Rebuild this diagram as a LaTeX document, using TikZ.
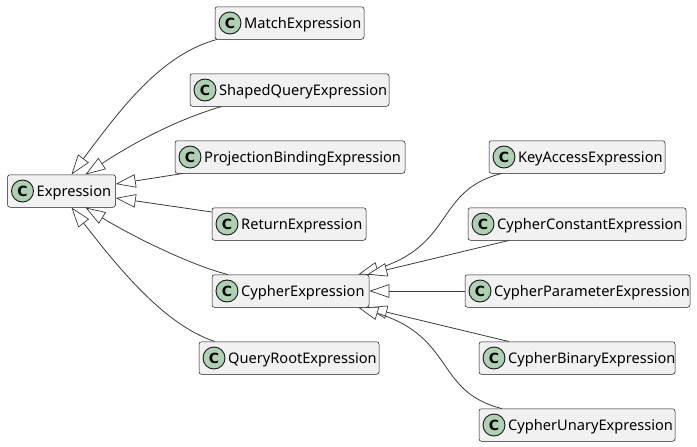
\documentclass[tikz,border=0pt]{standalone}
\usepackage{fontspec}
\setmainfont{Noto Sans}
\newfontfamily\spotfont{DejaVu Sans}
\usetikzlibrary{arrows.meta}
\definecolor{boxfill}{HTML}{F1F1F1}
\definecolor{boxline}{HTML}{181818}
\definecolor{spotfill}{HTML}{ADD1B2}
\tikzset{
  classbox/.style={draw=boxline,fill=boxfill,line width=0.5pt,rounded corners=2.5pt,inner sep=0pt},
  spot/.style={circle,draw=boxline,fill=spotfill,line width=0.9pt,minimum size=22pt,inner sep=0pt,font=\spotfont\fontsize{14}{14}\selectfont\bfseries,text=black},
  classname/.style={anchor=west,inner sep=0pt,font=\fontsize{14.6}{16}\selectfont,text=black},
  ext/.style={draw=boxline!85!white,line width=0.8pt,-{Triangle[open,fill=white,length=20pt,width=13.5pt,line width=0.7pt]}}
}
\newcommand{\classnode}[5]{%
  \node[classbox,minimum width=#3pt-#2pt,minimum height=32.5pt] (#1) at ({(#2+#3)/2},#4) {};
  \node[spot] (#1Spot) at (#2+15,#4) {C};
  \node[classname] (#1Name) at (#2+29,#4+1.5) {#5};
}
\begin{document}
\begin{tikzpicture}[x=1pt,y=-1pt]
\useasboundingbox[fill=white] (0,0) rectangle (697,447);
\classnode{Match}{215}{364}{23}{MatchExpression}
\classnode{Shaped}{190}{389}{90}{ShapedQueryExpression}
\classnode{Projection}{175}{405}{157}{ProjectionBindingExpression}
\classnode{Expression}{7.5}{115.5}{191}{Expression}
\classnode{Return}{212}{366}{224}{ReturnExpression}
\classnode{Cypher}{212}{369}{291}{CypherExpression}
\classnode{QueryRoot}{199}{379}{358}{QueryRootExpression}
\classnode{KeyAccess}{489}{665}{157}{KeyAccessExpression}
\classnode{Constant}{468}{686}{224}{CypherConstantExpression}
\classnode{Parameter}{465}{690}{291}{CypherParameterExpression}
\classnode{Binary}{479}{675}{358}{CypherBinaryExpression}
\classnode{Unary}{479}{675}{425}{CypherUnaryExpression}
% Expression family
\draw[ext] ([xshift=2pt]Match.south west) .. controls (160,55) and (120,110) .. ([xshift=10pt]Expression.north);
\draw[ext] ([xshift=32pt]Shaped.south west) .. controls (175,120) and (130,145) .. ([xshift=24pt]Expression.north);
\draw[ext] ([xshift=8pt]Projection.south west) -- ([yshift=7pt]Expression.east);
\draw[ext] ([yshift=12pt]Return.west) -- ([yshift=-7pt]Expression.east);
\draw[ext] ([xshift=16pt]Cypher.north west) .. controls (190,265) and (130,235) .. ([xshift=24pt]Expression.south);
\draw[ext] ([xshift=16pt]QueryRoot.north west) .. controls (165,325) and (120,270) .. ([xshift=10pt]Expression.south);
% Cypher family
\draw[ext] ([xshift=13pt]KeyAccess.south west) .. controls (435,190) and (455,245) .. ([xshift=-11pt]Cypher.north east);
\draw[ext] ([xshift=41pt]Constant.south west) -- ([xshift=-2pt]Cypher.north east);
\draw[ext] (Parameter.west) -- (Cypher.east);
\draw[ext] ([xshift=30pt]Binary.north west) -- ([xshift=-2pt]Cypher.south east);
\draw[ext] ([xshift=23pt]Unary.north west) .. controls (435,392) and (455,337) .. ([xshift=-11pt]Cypher.south east);
\end{tikzpicture}
\end{document}
